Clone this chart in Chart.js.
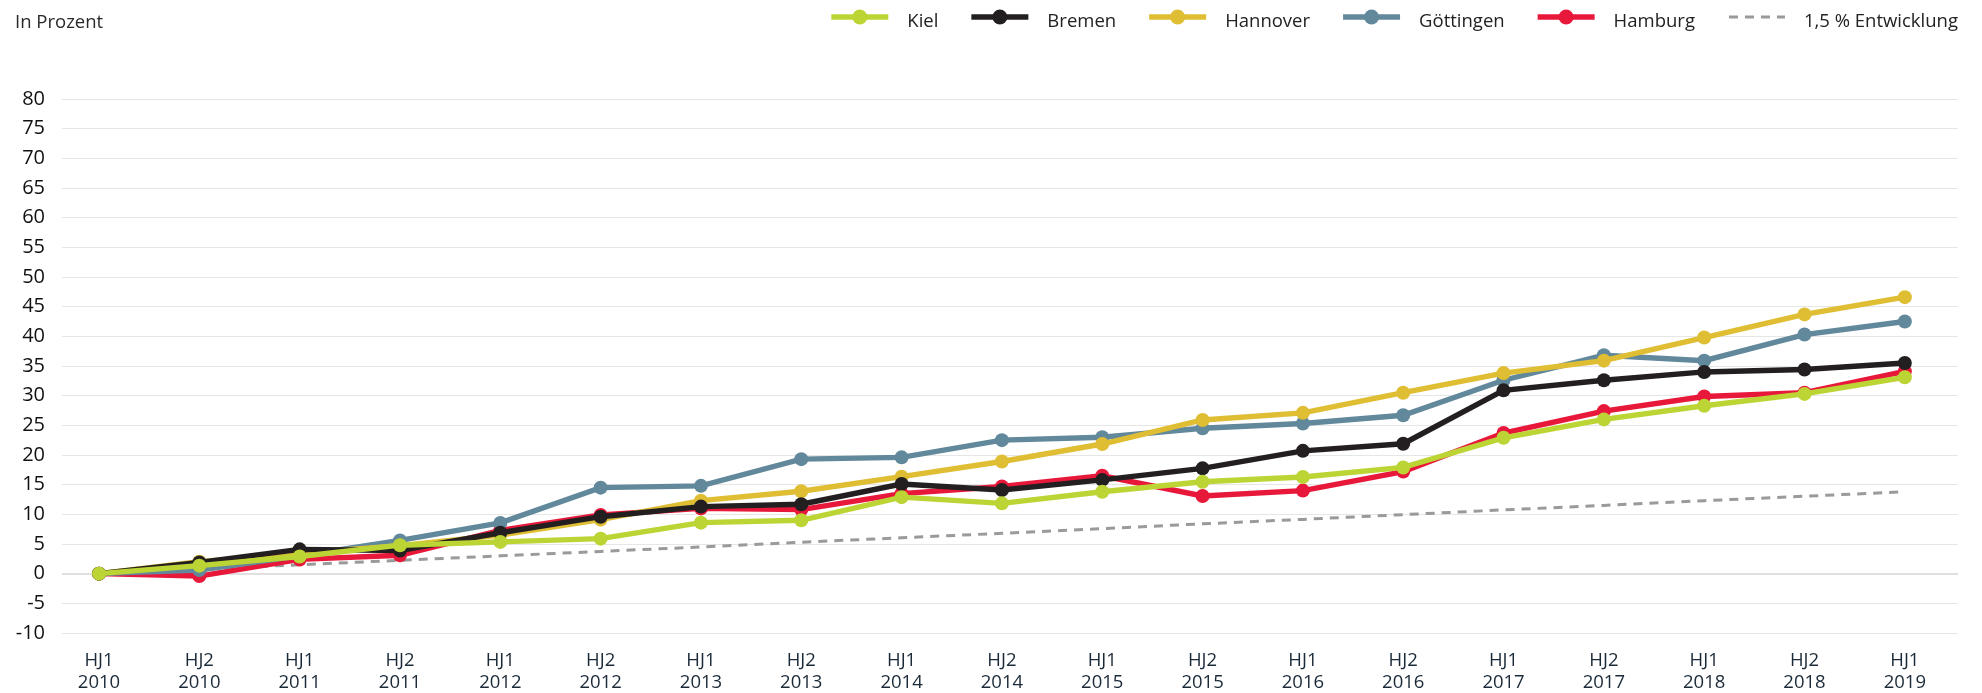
<!DOCTYPE html>
<html>
<head>
<meta charset="utf-8">
<script src="https://cdn.jsdelivr.net/npm/chart.js@4/dist/chart.umd.min.js"></script>
<style>
  html, body { margin: 0; padding: 0; background: #ffffff; }
  #wrap { width: 1982px; height: 693px; }
</style>
</head>
<body>
<div id="wrap"><canvas id="c" width="1982" height="693"></canvas></div>
<script>
// ---- data ----
const periods = ['HJ1','HJ2','HJ1','HJ2','HJ1','HJ2','HJ1','HJ2','HJ1','HJ2','HJ1','HJ2','HJ1','HJ2','HJ1','HJ2','HJ1','HJ2','HJ1'];
const years   = ['2010','2010','2011','2011','2012','2012','2013','2013','2014','2014','2015','2015','2016','2016','2017','2017','2018','2018','2019'];

const kiel      = [0, 1.35, 2.9, 4.8, 5.35, 5.9, 8.6, 9.0, 12.9, 11.85, 13.8, 15.5, 16.3, 17.9, 22.9, 26.0, 28.3, 30.3, 33.1];
const bremen    = [0, 1.9, 4.1, 3.9, 6.9, 9.6, 11.3, 11.7, 15.1, 14.1, 15.8, 17.75, 20.7, 21.9, 30.9, 32.6, 34.0, 34.4, 35.5];
const hannover  = [0, 2.0, 3.4, 4.7, 6.5, 9.1, 12.3, 13.9, 16.35, 18.9, 21.85, 25.9, 27.1, 30.5, 33.8, 35.9, 39.8, 43.7, 46.6];
const goettingen= [0, 0.6, 3.0, 5.6, 8.56, 14.5, 14.8, 19.3, 19.6, 22.5, 23.0, 24.5, 25.3, 26.7, 32.6, 36.8, 35.9, 40.3, 42.5];
const hamburg   = [0, -0.4, 2.4, 3.1, 7.3, 9.9, 11.0, 10.8, 13.5, 14.7, 16.5, 13.1, 14.0, 17.2, 23.7, 27.4, 29.85, 30.5, 34.1];
const trend15   = [0, 0.75, 1.5, 2.25, 3.0, 3.75, 4.5, 5.3, 6.05, 6.8, 7.6, 8.4, 9.15, 9.95, 10.75, 11.5, 12.3, 13.05, 13.8];

const yTickMin = -10, yTickMax = 80, yTickStep = 5;
const unitLabel = 'In Prozent';

// ---- styling ----
const FONT = "'Open Sans', 'Noto Sans', sans-serif";
const toXY = arr => arr.map((v, i) => ({ x: i, y: v }));

function lineSet(label, values, color) {
  return {
    label, data: toXY(values),
    borderColor: color, backgroundColor: color,
    pointBackgroundColor: color, pointBorderWidth: 0,
    pointRadius: 7, pointHoverRadius: 7,
    borderWidth: 5.4, tension: 0, clip: false
  };
}

const datasets = [
  lineSet('Kiel', kiel, '#bdd435'),
  lineSet('Bremen', bremen, '#231f20'),
  lineSet('Hannover', hannover, '#dfbe33'),
  lineSet('Göttingen', goettingen, '#62889b'),
  lineSet('Hamburg', hamburg, '#e8183b'),
  {
    label: '1,5 % Entwicklung', data: toXY(trend15),
    borderColor: '#9a9a9a', backgroundColor: '#9a9a9a',
    borderWidth: 3, borderDash: [9, 7], pointRadius: 0, pointHoverRadius: 0,
    tension: 0, isTrend: true
  }
];

// custom legend + unit label drawn on the canvas
const headerPlugin = {
  id: 'header',
  afterDraw(chart) {
    const ctx = chart.ctx;
    ctx.save();
    ctx.font = "18.5px " + FONT;
    ctx.fillStyle = '#2a2a2a';
    ctx.textBaseline = 'alphabetic';
    ctx.textAlign = 'left';
    ctx.fillText(unitLabel, 15, 28);

    const lineW = 57, gapText = 19, gapItem = 33, lineY = 17, baseY = 27;
    const items = chart.data.datasets.map(ds => ({
      ds, tw: ctx.measureText(ds.label).width
    }));
    let total = 0;
    items.forEach((it, k) => { total += lineW + gapText + it.tw + (k ? gapItem : 0); });
    let x = chart.chartArea.right - total;
    items.forEach(it => {
      const ds = it.ds;
      ctx.save();
      ctx.strokeStyle = ds.borderColor;
      if (ds.isTrend) {
        ctx.lineWidth = 3;
        ctx.setLineDash([9, 7]);
        ctx.beginPath(); ctx.moveTo(x + 1, lineY); ctx.lineTo(x + lineW, lineY); ctx.stroke();
      } else {
        ctx.lineWidth = 5.3;
        ctx.beginPath(); ctx.moveTo(x, lineY); ctx.lineTo(x + lineW, lineY); ctx.stroke();
        ctx.fillStyle = ds.borderColor;
        ctx.beginPath(); ctx.arc(x + lineW / 2, lineY, 7.5, 0, Math.PI * 2); ctx.fill();
      }
      ctx.restore();
      ctx.fillStyle = '#222222';
      ctx.fillText(ds.label, x + lineW + gapText, baseY);
      x += lineW + gapText + it.tw + gapItem;
    });
    ctx.restore();
  }
};

new Chart(document.getElementById('c'), {
  type: 'line',
  data: { datasets },
  plugins: [headerPlugin],
  options: {
    responsive: false,
    animation: false,
    devicePixelRatio: 1,
    layout: { padding: { top: 99, right: 24, left: 0, bottom: 0 } },
    plugins: {
      legend: { display: false },
      tooltip: { enabled: false },
      title: { display: false }
    },
    scales: {
      x: {
        type: 'linear',
        min: -0.369, max: 18.53,
        afterBuildTicks(scale) { scale.ticks = periods.map((p, i) => ({ value: i })); },
        afterFit(scale) { scale.height = 60; },
        grid: { display: false, drawTicks: false },
        border: { display: false },
        ticks: {
          autoSkip: false, maxRotation: 0, minRotation: 0, padding: 16,
          color: '#1b2a38',
          font: { family: FONT, size: 18.5, lineHeight: 1.22 },
          callback: (v) => [periods[v], years[v]]
        }
      },
      y: {
        min: yTickMin, max: yTickMax,
        afterFit(scale) { scale.width = 62; },
        grid: {
          drawTicks: false,
          color: ctx => (ctx.tick && ctx.tick.value === 0) ? '#e0e0e0' : '#e6e6e6',
          lineWidth: ctx => (ctx.tick && ctx.tick.value === 0) ? 2 : 1
        },
        border: { display: false },
        ticks: {
          stepSize: yTickStep, padding: 17,
          color: '#111111',
          font: { family: FONT, size: 20 }
        }
      }
    }
  }
});
</script>
</body>
</html>
